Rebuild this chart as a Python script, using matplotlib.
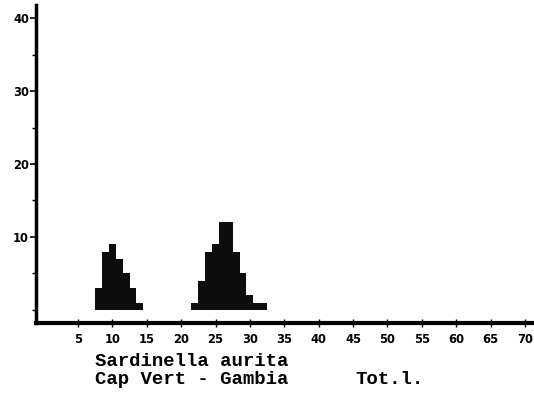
import matplotlib
matplotlib.use('Agg')
import matplotlib.pyplot as plt

# length classes (cm) and counts
left_lengths = [8, 9, 10, 11, 12, 13, 14]
left_counts = [3, 8, 9, 7, 5, 3, 1]
right_lengths = [22, 23, 24, 25, 26, 27, 28, 29, 30, 31, 32]
right_counts = [1, 4, 8, 9, 12, 12, 8, 5, 2, 1, 1]

x_ticks = list(range(5, 75, 5))
y_major = [10, 20, 30, 40]
y_minor = [0, 5, 15, 25, 35]

species = 'Sardinella aurita'
area = 'Cap Vert - Gambia'
total = 'Tot.l.'

dpi = 100
fig = plt.figure(figsize=(534 / dpi, 399 / dpi), dpi=dpi)
ax = fig.add_axes([36 / 534, (399 - 323) / 399, (534 - 36) / 534, (323 - 5) / 399])

ax.bar(left_lengths, left_counts, width=1.0, color='#0d0d0d', linewidth=0)
ax.bar(right_lengths, right_counts, width=1.0, color='#0d0d0d', linewidth=0)

ax.set_xlim(-1.1, 71.3)
ax.set_ylim(-1.8, 41.8)

for side in ['top', 'right']:
    ax.spines[side].set_visible(False)
ax.spines['left'].set_linewidth(2.5)
ax.spines['bottom'].set_linewidth(3)

ax.set_xticks(x_ticks)
ax.set_xticklabels([str(v) for v in x_ticks])
ax.set_yticks(y_major)
ax.set_yticklabels([str(v) for v in y_major])
ax.set_yticks(y_minor, minor=True)

ax.tick_params(axis='x', direction='inout', length=6, width=1, pad=4,
               labelsize=8.3)
ax.tick_params(axis='y', which='major', direction='out', length=4, width=1.2,
               pad=1, labelsize=8.3)
ax.tick_params(axis='y', which='minor', direction='out', length=3, width=1)
for lbl in ax.get_xticklabels() + ax.get_yticklabels():
    lbl.set_fontweight('semibold')

cap = dict(family='Liberation Mono', fontweight='bold', fontsize=13.7,
           va='center', ha='left')
fig.text(95 / 534, 1 - 362 / 399, species, **cap)
fig.text(95 / 534, 1 - 380 / 399, area, **cap)
fig.text(355 / 534, 1 - 380 / 399, total, **cap)

plt.savefig('out.png', dpi=dpi)
